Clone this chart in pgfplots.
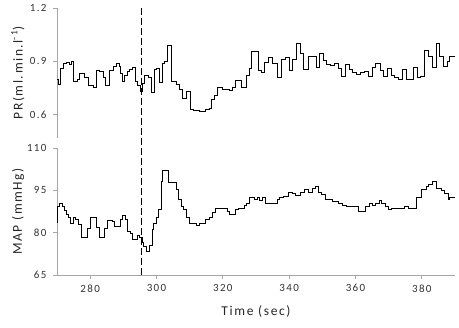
\documentclass[border=0pt]{standalone}
\usepackage{pgfplots}
\pgfplotsset{compat=1.18}
\usepackage{fontspec}
\setmainfont{Carlito}[LetterSpace=12]

\definecolor{axisgray}{HTML}{A6A6A6}

\pgfplotstableread{
t v
270.0 0.80
270.6 0.77
271.1 0.86
272.0 0.89
272.9 0.895
273.9 0.88
274.4 0.90
275.0 0.79
276.1 0.80
276.9 0.83
278.4 0.81
279.4 0.765
280.9 0.755
281.9 0.85
282.9 0.845
283.9 0.81
284.7 0.765
285.9 0.85
286.9 0.87
287.9 0.89
288.7 0.87
289.0 0.834
289.7 0.79
290.4 0.82
291.4 0.843
292.0 0.856
292.7 0.865
293.7 0.787
294.4 0.762
295.1 0.73
295.7 0.778
296.4 0.819
297.7 0.81
298.4 0.725
299.4 0.852
300.1 0.86
300.9 0.78
301.7 0.89
302.4 0.90
303.4 0.987
304.6 0.787
305.9 0.768
306.9 0.74
307.9 0.69
308.9 0.73
310.2 0.628
311.2 0.622
312.2 0.625
312.9 0.617
313.9 0.62
314.9 0.628
315.9 0.637
316.6 0.684
317.4 0.706
318.4 0.755
319.9 0.745
320.9 0.74
321.9 0.737
322.9 0.752
323.9 0.793
325.7 0.752
327.1 0.822
327.9 0.86
328.7 0.958
330.7 0.85
331.7 0.835
332.7 0.896
333.9 0.92
334.9 0.89
336.4 0.81
337.7 0.91
338.9 0.92
340.1 0.85
341.1 0.91
342.1 1.0
343.4 0.947
344.4 0.853
345.7 0.928
348.1 0.868
349.1 0.947
350.4 0.906
351.4 0.883
352.4 0.878
353.7 0.887
354.9 0.86
355.9 0.816
357.1 0.88
358.1 0.853
359.1 0.84
360.4 0.827
361.4 0.84
362.7 0.845
363.9 0.816
365.1 0.864
366.1 0.887
367.4 0.85
368.4 0.816
369.7 0.86
370.9 0.82
371.9 0.81
372.9 0.80
374.1 0.855
375.4 0.80
377.4 0.868
378.7 0.81
379.7 0.816
380.9 0.96
382.1 0.925
383.1 0.868
384.4 1.0
385.4 0.928
386.4 0.872
387.7 0.90
388.4 0.928
390.0 0.928
}\prdata

\pgfplotstableread{
t v
270.0 83.5
270.1 89.3
270.9 90.3
271.7 89.1
272.4 87.9
272.9 86.4
273.6 85.2
274.2 83.4
274.9 85.2
275.7 84.6
276.6 82.8
277.4 78.3
279.1 81.3
280.1 85.4
281.9 82.0
282.7 78.3
284.4 81.6
285.1 84.3
286.6 83.8
287.4 82.2
289.1 84.8
289.7 86.2
290.7 84.8
291.4 80.4
292.1 79.6
292.7 77.5
294.4 78.9
294.9 78.4
295.7 76.5
296.1 75.1
297.1 73.3
297.9 75.3
298.7 81.0
299.1 83.2
299.9 85.2
300.7 88.1
301.4 98.2
301.9 102.2
303.6 97.6
305.9 95.2
306.7 91.7
307.4 89.3
308.1 88.1
309.1 85.2
310.1 83.4
312.1 82.4
313.1 83.4
314.9 84.6
316.1 85.5
316.9 87.0
317.9 88.4
321.4 87.5
321.9 86.4
323.7 88.1
324.7 88.4
326.4 89.6
327.1 90.5
328.1 92.3
329.4 91.7
330.4 92.3
331.1 91.4
331.9 92.3
332.9 90.3
336.4 91.7
337.1 92.3
338.4 92.9
339.9 94.4
340.9 93.8
341.9 93.3
343.4 94.3
344.7 95.2
345.9 94.3
346.9 95.6
347.9 96.2
348.9 94.3
349.7 93.5
350.9 91.9
351.9 91.7
353.1 91.1
354.9 90.5
356.1 89.6
357.4 89.1
360.9 87.5
362.9 89.3
364.1 90.3
365.1 89.6
365.9 90.3
367.1 91.3
367.9 90.3
368.9 89.1
369.9 88.1
370.9 88.4
374.9 89.1
375.9 88.4
378.4 92.3
379.9 95.2
381.4 96.4
381.9 97.0
383.1 98.2
384.4 95.5
385.9 95.0
386.9 94.0
387.9 91.7
388.4 92.3
390.0 92.3
}\mapdata

\pgfplotsset{
    panel/.style={
        scale only axis,
        width=398pt,
        xmin=270, xmax=390,
        axis y line*=left,
        axis line style={axisgray, line width=0.8pt},
        tick style={axisgray, line width=0.8pt},
        tick align=outside,
        major tick length=4pt,
        ytick pos=left,
        clip=false,
        /pgf/number format/assume math mode=true,
        xticklabel style={font=\fontsize{11}{12}\selectfont, text=black!80, yshift=-2pt},
        yticklabel style={font=\fontsize{11}{12}\selectfont, text=black!80, xshift=-3pt},
        ylabel style={at={(axis description cs:-0.098,0.5)}, anchor=center,
            font=\fontsize{13.5}{15}\selectfont, text=black!85},
    },
    trace/.style={const plot, black, line width=1pt, mark=none},
    marker/.style={black, line width=1pt, dash pattern=on 7pt off 3pt},
}

\begin{document}
\begin{tikzpicture}
    \useasboundingbox (-57pt,-53pt) rectangle (402pt,275pt);
    % top panel: PR
    \begin{axis}[
        panel,
        at={(0,137pt)}, anchor=south west,
        height=130pt,
        ymin=0.47, ymax=1.2,
        axis x line=none,
        xtick=\empty,
        ytick={0.6,0.9,1.2},
        yticklabel style={/pgf/number format/.cd, fixed, fixed zerofill, precision=1},
        ylabel={PR(ml.min.l\textsuperscript{-1})},
    ]
        \addplot[trace] table[x=t, y=v] {\prdata};
        \addplot[marker] coordinates {(295.5,1.2) (295.5,0.47)};
    \end{axis}
    % bottom panel: MAP
    \begin{axis}[
        panel,
        at={(0,0)}, anchor=south west,
        height=127pt,
        ymin=65, ymax=110,
        axis x line*=bottom,
        xtick={280,300,...,380},
        xtick pos=bottom,
        ytick={65,80,95,110},
        ylabel={MAP (mmHg)},
        xlabel={Time (sec)},
        xlabel style={at={(axis description cs:0.5,-0.29)}, anchor=center,
            font=\fontsize{13.5}{15}\selectfont, text=black!85},
    ]
        \addplot[trace] table[x=t, y=v] {\mapdata};
        \addplot[marker] coordinates {(295.5,65) (295.5,113.6)};
    \end{axis}
\end{tikzpicture}
\end{document}
